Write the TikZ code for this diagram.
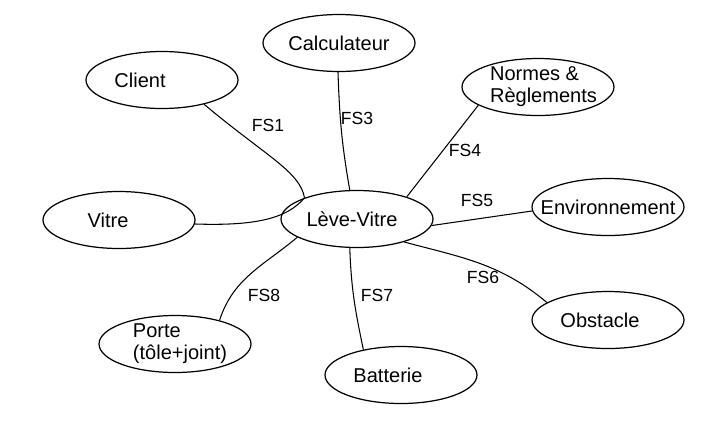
\documentclass[tikz,border=0pt]{standalone}
\usepackage{fontspec}
\setmainfont{Liberation Sans}
\usetikzlibrary{shapes.geometric}

\begin{document}
\begin{tikzpicture}[x=0.02cm, y=-0.02cm,
    entity/.style={ellipse, draw, line width=0.7pt, minimum width=3.04cm, minimum height=1.14cm, inner sep=0pt},
    tag/.style={font=\fontsize{11.4}{12.5}\selectfont, inner sep=0pt, align=left},
    link/.style={line width=0.6pt},
    fs/.style={font=\fontsize{10}{12}\selectfont, inner sep=0pt}
]
\useasboundingbox (0,0) rectangle (710,434);

% Central element
\node[entity, label={[tag, xshift=-0.1cm]center:Lève-Vitre}] (leve) at (357,219) {};

% Surrounding elements
\node[entity, label={[tag, xshift=-0.44cm]center:Client}] (client) at (162,80) {};
\node[entity, label={[tag, xshift=-0.22cm]center:Vitre}] (vitre) at (119,220) {};
\node[entity, label={[tag]center:Calculateur}] (calc) at (339,43) {};
\node[entity, label={[tag, xshift=0.11cm]center:{Normes \&\\Règlements}}] (normes) at (538,87) {};
\node[entity, label={[tag]center:Environnement}] (env) at (608,207) {};
\node[entity, label={[tag, xshift=-0.16cm]center:Obstacle}] (obst) at (608,320) {};
\node[entity, label={[tag, xshift=-0.26cm]center:Batterie}] (bat) at (401,375) {};
\node[entity, label={[tag, xshift=0.1cm]center:{Porte\\(tôle+joint)}}] (porte) at (175,344) {};

% Links to the central element
\draw[link] (client.-30) to[out=-40, in=100, out looseness=1.5, in looseness=0.5] (leve.158);
\draw[link] (vitre.-3) to[out=-2, in=-130, out looseness=1.4, in looseness=0.6] (leve.158);
\draw[link] (calc.-92) to[out=-88, in=100] (leve.104);
\draw[link] (normes.197) -- (leve.24);
\draw[link] (env.183) -- (leve.-5);
\draw[link] (leve.-26) to[out=-15, in=140] (obst.164);
\draw[link] (leve.-104) to[out=-88, in=102] (bat.146);
\draw[link] (leve.197) to[out=-140, in=72] (porte.28);

% Function labels
\node[fs] (fs1) at (268,125) {FS1};
\node[fs] (fs3) at (357,118) {FS3};
\node[fs] (fs4) at (465,150) {FS4};
\node[fs] (fs5) at (477,200) {FS5};
\node[fs] (fs6) at (483,277) {FS6};
\node[fs] (fs7) at (377,295) {FS7};
\node[fs] (fs8) at (264,295) {FS8};

\end{tikzpicture}
\end{document}
